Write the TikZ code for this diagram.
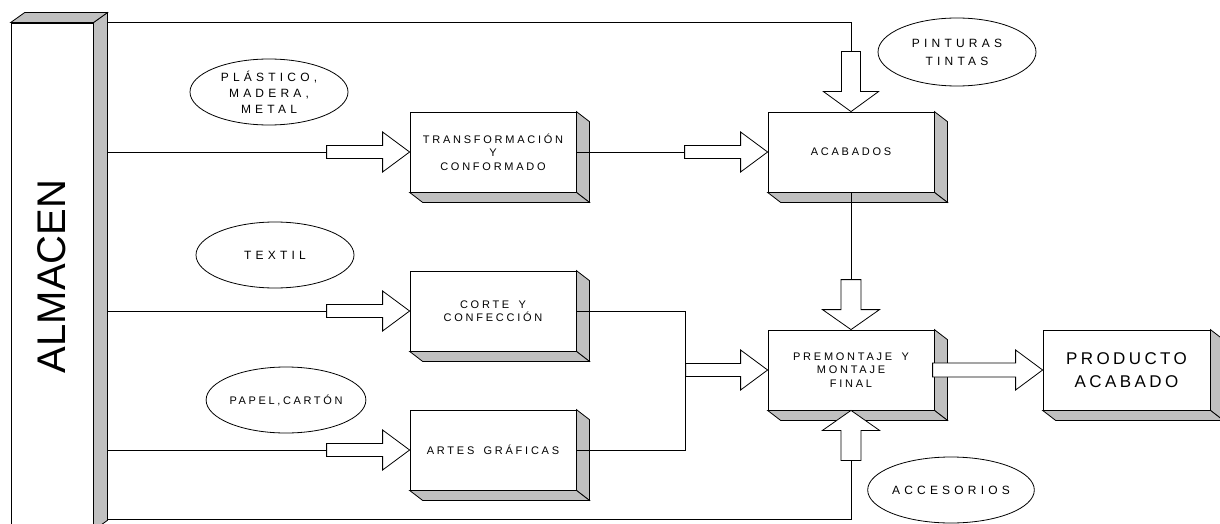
\documentclass[tikz,border=0pt]{standalone}
\usepackage{graphicx}
\usepackage{fontspec}
\setmainfont{Liberation Sans}
\newfontfamily\espaciado[LetterSpace=25,WordSpace=1.6]{Liberation Sans}
\newfontfamily\espaciadoel[LetterSpace=35,WordSpace=1.6]{Liberation Sans}
\newfontfamily\espaciadopap[LetterSpace=24]{Liberation Sans}
\newfontfamily\espaciadoprod[LetterSpace=20]{Liberation Sans}
\usetikzlibrary{shapes.geometric,calc}

\definecolor{gris}{RGB}{192,192,192}
\tikzset{every picture/.style={line width=0.8pt}}
\tikzset{
  caja/.style={draw, fill=white, minimum width=166, minimum height=80, inner sep=0, align=center,
    font=\espaciado\fontsize{11}{13.5}\selectfont},
  globo/.style={draw, ellipse, minimum width=158, minimum height=66, inner sep=0, align=center,
    font=\espaciadoel\fontsize{12}{16}\selectfont},
  bisel/.style={draw, fill=gris},
  pics/flecha/.style n args={4}{code={
    \filldraw[fill=white] (0,0) -- (-#2,-#3) -- (-#2,-#4) -- (-#1,-#4) -- (-#1,#4) -- (-#2,#4) -- (-#2,#3) -- cycle;
  }}
}
\newcommand{\sombra}[1]{%
  \filldraw[bisel] (#1.north east) -- ++(13,10) -- ($(#1.south east)+(13,10)$) -- (#1.south east) -- cycle;
  \filldraw[bisel] (#1.south west) -- ++(13,10) -- ($(#1.south east)+(13,10)$) -- (#1.south east) -- cycle;}

\begin{document}
\begin{tikzpicture}[x=1pt,y=-1pt]
\useasboundingbox (0,0) rectangle (1220,524);

%Shape: Almacen
\node[draw, fill=white, minimum width=82, minimum height=507, inner sep=0] (almacen) at (52,276.5)
  {\rotatebox{90}{\fontsize{40}{40}\selectfont ALMACEN}};
\filldraw[bisel] (almacen.north east) -- ++(14,-10) -- ($(almacen.south east)+(14,-10)$) -- (almacen.south east) -- cycle;
\filldraw[bisel] (almacen.north west) -- ++(14,-10) -- ($(almacen.north east)+(14,-10)$) -- (almacen.north east) -- cycle;
\coordinate (alm) at ($(almacen.south east)+(14,-11)$);

%Shape: Boxes
\node[caja] (trans) at (493,152) {TRANSFORMACIÓN\\Y\\CONFORMADO};
\node[caja] (acab) at (851,152) {ACABADOS};
\node[caja] (corte) at (493,311) {CORTE Y\\CONFECCIÓN};
\node[caja] (artes) at (493,450) {ARTES GRÁFICAS};
\node[caja] (prem) at (851,370) {PREMONTAJE Y\\MONTAJE\\FINAL};
\node[caja, minimum width=167, font=\espaciadoprod\fontsize{17}{23}\selectfont] (prod) at (1126.5,370) {PRODUCTO\\ACABADO};
\sombra{trans}
\sombra{acab}
\sombra{corte}
\sombra{artes}
\sombra{prem}
\sombra{prod}

%Shape: Ellipses
\node[globo] (plast) at (269,92) {PLÁSTICO,\\MADERA,\\METAL};
\node[globo, minimum height=68, font=\espaciadoel\fontsize{12}{18}\selectfont] (pint) at (957,52) {PINTURAS\\TINTAS};
\node[globo] (textil) at (275,255) {TEXTIL};
\node[globo, font=\espaciadopap\fontsize{11}{13}\selectfont] (papel) at (286,400) {PAPEL,CARTÓN};
\node[globo] (acces) at (951,490) {ACCESORIOS};

% arrow tails
\coordinate (c1) at ($(trans.west)+(-83,0)$);
\coordinate (c2) at ($(corte.west)+(-83,0)$);
\coordinate (c3) at ($(artes.west)+(-83,0)$);
\coordinate (c4) at ($(acab.west)+(-83,0)$);
\coordinate (c5) at ($(prem.west)+(-82,0)$);
\coordinate (c6) at ($(acab.north)+(0,-60)$);
\coordinate (c7) at ($(prem.north)+(0,-50)$);
\coordinate (c8) at ($(prem.south)+(0,50)$);

%Straight Lines
\draw ($(almacen.north east)+(14,0)$) -| (c6);
\draw (alm |- c1) -- (c1);
\draw (alm |- c2) -- (c2);
\draw (alm |- c3) -- (c3);
\draw (alm) -| (c8);
\draw (trans.east) -- (c4);
\draw (corte.east) -| (c5);
\draw (artes.east) -| (c5);
\draw (acab.south) -- (c7);

%Shape: Block arrows
\pic at (trans.west) {flecha={83}{27}{20}{6.5}};
\pic at (corte.west) {flecha={83}{27}{20}{6.5}};
\pic at (artes.west) {flecha={83}{27}{20}{6.5}};
\pic at (acab.west) {flecha={83}{27}{20}{6.5}};
\pic at (prem.west) {flecha={82}{27}{20}{6.5}};
\pic at (prod.west) {flecha={110}{27}{20}{7}};
\pic[rotate=-90] at (acab.north) {flecha={60}{20}{27.5}{9.5}};
\pic[rotate=-90] at (prem.north) {flecha={50}{20}{28.5}{10}};
\pic[rotate=90] at (prem.south) {flecha={50}{20}{28.5}{10}};

\end{tikzpicture}
\end{document}
